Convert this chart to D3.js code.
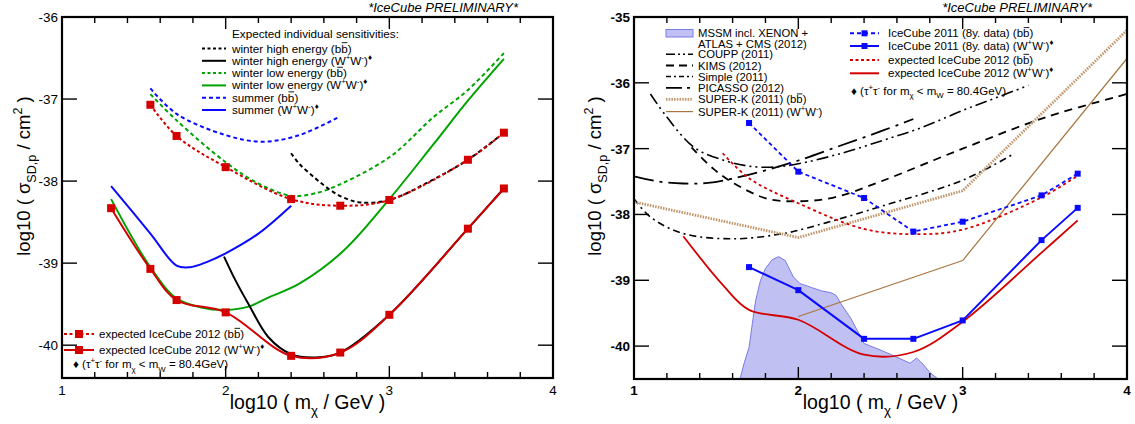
<!DOCTYPE html>
<html><head><meta charset="utf-8">
<script src="https://cdn.jsdelivr.net/npm/d3@7"></script>
<style>
body{margin:0;background:#fff}
svg{display:block}
text{font-family:"Liberation Sans",Arial,Helvetica,sans-serif;fill:#000}
</style>
</head><body>
<svg id="c" width="1135" height="424"></svg>
<script>
// ---------------- DATA ----------------
const xTickLabels = ["1","2","3","4"];
const yTicksLeft = [-36,-37,-38,-39,-40];
const yTicksRight = [-35,-36,-37,-38,-39,-40];

// expected IceCube 2012 (W+W-)  (mass points, log10 sigma)
const expWMass = [1.30,1.54,1.70,2.00,2.40,2.70,3.00,3.48,3.70];
const expW     = [-38.33,-39.07,-39.45,-39.60,-40.13,-40.09,-39.63,-38.58,-38.09];
// expected IceCube 2012 (bb)
const expBbMass = [1.54,1.70,2.00,2.40,2.70,3.00,3.48,3.70];
const expBb     = [-37.07,-37.45,-37.83,-38.22,-38.30,-38.23,-37.74,-37.41];

// winter high energy
const whBbMass = [2.40,2.45,2.55,2.64,2.72,2.82,3.00,3.25,3.48,3.70];
const whBb     = [-37.66,-37.79,-37.97,-38.11,-38.20,-38.26,-38.23,-38.00,-37.74,-37.41];
const whWMass  = [1.99,2.06,2.14,2.26,2.40,2.55,2.70,3.00,3.48,3.70];
const whW      = [-38.92,-39.21,-39.50,-39.90,-40.11,-40.15,-40.09,-39.63,-38.58,-38.09];
// winter low energy
const wlBbMass = [1.54,1.70,2.00,2.20,2.40,2.52,2.64,3.00,3.27,3.48,3.70];
const wlBb     = [-36.94,-37.26,-37.77,-38.03,-38.18,-38.16,-38.09,-37.71,-37.22,-36.89,-36.44];
const wlWMass  = [1.30,1.54,1.70,1.85,2.00,2.14,2.26,2.45,2.72,3.00,3.27,3.48,3.70];
const wlW      = [-38.22,-39.05,-39.43,-39.54,-39.57,-39.53,-39.42,-39.25,-38.85,-38.22,-37.55,-37.02,-36.51];
// summer
const suBbMass = [1.54,1.70,2.00,2.22,2.45,2.69];
const suBb     = [-36.87,-37.18,-37.44,-37.52,-37.44,-37.22];
const suWMass  = [1.30,1.54,1.70,1.78,1.88,2.00,2.20,2.40];
const suW      = [-38.06,-38.64,-39.03,-39.05,-38.99,-38.88,-38.64,-38.30];

// IceCube 2011 (8y. data)
const ic11Mass = [1.70,2.00,2.40,2.70,3.00,3.48,3.70];
const ic11Bb   = [-36.61,-37.35,-37.75,-38.26,-38.11,-37.71,-37.38];
const ic11W    = [-38.80,-39.15,-39.89,-39.89,-39.61,-38.39,-37.90];

// direct detection limits
const couppMass = [1.10,1.20,1.365,1.55,1.71,1.85,2.00,2.25,2.52,2.75,3.00,3.20,3.40];
const coupp     = [-36.17,-36.52,-36.98,-37.18,-37.27,-37.28,-37.23,-37.08,-36.87,-36.68,-36.42,-36.23,-36.04];
const kimsMass  = [1.35,1.48,1.61,1.81,2.00,2.22,2.50,3.00,3.51,4.00];
const kims      = [-36.98,-37.30,-37.53,-37.76,-37.80,-37.74,-37.50,-37.00,-36.52,-36.17];
const simpleMass= [1.00,1.10,1.30,1.61,1.91,2.00,2.22,2.50,3.00,3.31];
const simple    = [-37.76,-38.04,-38.29,-38.37,-38.29,-38.24,-38.09,-37.88,-37.48,-37.08];
const picassoMass=[1.00,1.15,1.30,1.45,1.61,1.80,2.00,2.25,2.52,2.70];
const picasso   = [-37.42,-37.50,-37.53,-37.52,-37.45,-37.33,-37.18,-36.96,-36.72,-36.55];
const skBbMass  = [1,2,3,4];
const skBb      = [-37.81,-38.35,-37.64,-35.20];
const skWMass   = [2,3,4];
const skW       = [-39.55,-38.70,-35.63];
// MSSM incl. XENON + ATLAS + CMS (upper edge of region)
const mssmMass = [1.645,1.669,1.70,1.72,1.74,1.77,1.80,1.84,1.88,1.92,1.97,2.01,2.08,2.14,2.20,2.23,2.26,2.32,2.40,2.51,2.60,2.68,2.72,2.76,2.80,2.85];
const mssm     = [-40.5,-40.27,-40.02,-39.66,-39.31,-39.00,-38.82,-38.69,-38.64,-38.70,-38.95,-39.05,-39.11,-39.16,-39.19,-39.23,-39.36,-39.58,-39.96,-40.07,-40.17,-40.26,-40.18,-40.28,-40.40,-40.5];

// ---------------- STYLE ----------------
const RED="#d40000", GREEN="#00a400", BLUE="#0a0aff", BROWN="#a8743f", BROWN_DOT="#c0956a";
const svg = d3.select("#c");
const zip = (xs,ys)=>xs.map((x,i)=>[x,ys[i]]);

// rich text: ^{sup} _{sub} ~{overline}
function rich(parent, str, x, y, fs, opts={}) {
  const t = parent.append("text").attr("x",x).attr("y",y).style("font-size",fs+"px");
  if (opts.anchor) t.attr("text-anchor",opts.anchor);
  if (opts.weight) t.style("font-weight",opts.weight);
  if (opts.style) t.style("font-style",opts.style);
  if (opts.transform) t.attr("transform",opts.transform);
  const re=/([\^_~])\{([^}]*)\}/g;
  let last=0, m, cur=0;
  const overs=[];
  const add=(s,kind)=>{
    if(!s) return;
    const ts=t.append("tspan").text(s);
    const target = kind==="^" ? -0.42*fs : kind==="_" ? 0.32*fs : 0;
    const dy = target-cur;
    if (Math.abs(dy)>1e-6) ts.attr("dy",dy);
    cur=target;
    if (kind==="^"||kind==="_") ts.style("font-size",(fs*0.68)+"px");
    if (kind==="~") overs.push(ts);
  };
  while((m=re.exec(str))){ add(str.slice(last,m.index),""); add(m[2],m[1]); last=re.lastIndex; }
  add(str.slice(last),"");
  overs.forEach(ts=>{
    const n=ts.node();
    const sx=n.getStartPositionOfChar(0).x, ex=n.getEndPositionOfChar(n.getNumberOfChars()-1).x;
    parent.append("line").attr("x1",sx+0.6).attr("x2",ex-0.2).attr("y1",y-0.84*fs).attr("y2",y-0.84*fs)
      .attr("stroke","#000").attr("stroke-width",0.9);
  });
  return t;
}

function panel(opt){
  const {x0,x1,y0,y1,yDom,yTicks,bold,id} = opt;
  const x = d3.scaleLinear().domain([1,4]).range([x0,x1]);
  const y = d3.scaleLinear().domain(yDom).range([y0,y1]);
  const g = svg.append("g");
  svg.append("clipPath").attr("id",id).append("rect").attr("x",x0).attr("y",y0).attr("width",x1-x0).attr("height",y1-y0);
  const plot = g.append("g").attr("clip-path",`url(#${id})`);
  const axes = g.append("g");
  axes.append("rect").attr("x",x0).attr("y",y0).attr("width",x1-x0).attr("height",y1-y0)
    .attr("fill","none").attr("stroke","#000").attr("stroke-width",2.2);
  const xt = d3.range(0,16).map(i=>1+i*0.2);
  xt.forEach(v=>{
    const major = Math.abs(v-Math.round(v))<1e-6;
    const L = major?12:6;
    axes.append("line").attr("x1",x(v)).attr("x2",x(v)).attr("y1",y1).attr("y2",y1-L).attr("stroke","#000").attr("stroke-width",1.4);
    axes.append("line").attr("x1",x(v)).attr("x2",x(v)).attr("y1",y0).attr("y2",y0+L).attr("stroke","#000").attr("stroke-width",1.4);
  });
  xTickLabels.forEach(s=>{
    axes.append("text").attr("x",x(+s)).attr("y",395).attr("text-anchor","middle")
      .style("font-size","13.5px").style("font-weight",bold?"bold":"normal").text(s);
  });
  yTicks.forEach(v=>{
    axes.append("line").attr("x1",x0).attr("x2",x0+15).attr("y1",y(v)).attr("y2",y(v)).attr("stroke","#000").attr("stroke-width",1.4);
    axes.append("line").attr("x1",x1).attr("x2",x1-15).attr("y1",y(v)).attr("y2",y(v)).attr("stroke","#000").attr("stroke-width",1.4);
    axes.append("text").attr("x",opt.yLabX).attr("y",y(v)+5).attr("text-anchor","end")
      .style("font-size","13.5px").style("font-weight",bold?"bold":"normal").text(String(v));
  });
  rich(axes,"log10 ( m_{χ} / GeV )",(x0+x1)/2,409,19.5,{anchor:"middle"});
  rich(axes,"log10 ( σ_{SD,p} / cm^{2} )",0,0,18.5,{anchor:"middle",transform:`translate(${opt.yTitleX},176) rotate(-90)`});
  axes.append("text").attr("x",x1-35).attr("y",12).attr("text-anchor","end")
    .style("font-size","13px").style("font-style","italic").text("*IceCube PRELIMINARY*");
  return {x,y,plot,g};
}

function curve(p, xs, ys, color, w, dash, straight){
  const line = d3.line().x(d=>p.x(d[0])).y(d=>p.y(d[1])).curve(straight?d3.curveLinear:d3.curveCatmullRom.alpha(0.5));
  p.plot.append("path").datum(zip(xs,ys)).attr("d",line).attr("fill","none")
    .attr("stroke",color).attr("stroke-width",w).attr("stroke-dasharray",dash||null)
    .attr("stroke-linejoin","round");
}
function squares(p, xs, ys, color, s){
  p.plot.selectAll(null).data(zip(xs,ys)).join("rect")
    .attr("x",d=>p.x(d[0])-s/2).attr("y",d=>p.y(d[1])-s/2).attr("width",s).attr("height",s).attr("fill",color);
}

// ---------------- LEFT PANEL ----------------
const L = panel({x0:62,x1:553,y0:17,y1:378,yDom:[-36,-40.4],yTicks:yTicksLeft,bold:false,id:"clipL",yLabX:58,yTitleX:30});
curve(L, wlBbMass, wlBb, GREEN, 2, "4,3");
curve(L, suBbMass, suBb, BLUE, 2, "4,3");
curve(L, whBbMass, whBb, "#000", 2, "4,3");
curve(L, expBbMass, expBb, RED, 2, "3,2.5");
curve(L, wlWMass, wlW, GREEN, 2);
curve(L, suWMass, suW, BLUE, 2);
curve(L, whWMass, whW, "#000", 2);
curve(L, expWMass, expW, RED, 2);
squares(L, expBbMass, expBb, RED, 8);
squares(L, expWMass, expW, RED, 8);

// left top legend
{
  const lg = svg.append("g");
  const fs=11.7, x0=202, x1=226, tx=232;
  lg.append("text").attr("x",tx).attr("y",38).style("font-size",fs+"px").text("Expected individual sensitivities:");
  const items=[
    ["winter high energy (b~{b})","#000","3,2.5"],
    ["winter high energy (W^{+}W^{-})^{♦}","#000",null],
    ["winter low energy (b~{b})",GREEN,"3,2.5"],
    ["winter low energy (W^{+}W^{-})^{♦}",GREEN,null],
    ["summer (b~{b})",BLUE,"4,3"],
    ["summer (W^{+}W^{-})^{♦}",BLUE,null]];
  items.forEach((it,i)=>{
    const yy=48.5+i*12.3;
    lg.append("line").attr("x1",x0).attr("x2",x1).attr("y1",yy).attr("y2",yy).attr("stroke",it[1]).attr("stroke-width",2).attr("stroke-dasharray",it[2]);
    rich(lg,it[0],tx,yy+4,fs);
  });
}
// left bottom legend
{
  const lg = svg.append("g"); const fs=11.5;
  const rows=[["expected IceCube 2012 (b~{b})","3,2.5",334],["expected IceCube 2012 (W^{+}W^{-})^{♦}",null,350]];
  rows.forEach(r=>{
    lg.append("line").attr("x1",64).attr("x2",94).attr("y1",r[2]).attr("y2",r[2]).attr("stroke",RED).attr("stroke-width",2).attr("stroke-dasharray",r[1]);
    lg.append("rect").attr("x",75).attr("y",r[2]-4).attr("width",8).attr("height",8).attr("fill",RED);
    rich(lg,r[0],99,r[2]+4,fs);
  });
  rich(lg,"♦ (τ^{+}τ^{-} for m_{χ} < m_{W} = 80.4GeV)",73,368,fs);
}

// ---------------- RIGHT PANEL ----------------
const R = panel({x0:634,x1:1127,y0:17,y1:379,yDom:[-35,-40.5],yTicks:yTicksRight,bold:true,id:"clipR",yLabX:630,yTitleX:601});
{
  const pts = zip(mssmMass,mssm);
  const area = d3.area().x(d=>R.x(d[0])).y0(R.y(-40.6)).y1(d=>R.y(d[1]));
  R.plot.append("path").datum(pts).attr("d",area).attr("fill","#c0c0f3").attr("stroke","none");
  R.plot.append("path").datum(pts).attr("d",d3.line().x(d=>R.x(d[0])).y(d=>R.y(d[1]))).attr("fill","none").attr("stroke","#7a7ae6").attr("stroke-width",1);
}
curve(R, couppMass, coupp, "#000", 1.6, "12,4,2,4,2,4");
curve(R, kimsMass, kims, "#000", 1.8, "8,6");
curve(R, simpleMass, simple, "#000", 1.6, "7,4,2,4");
curve(R, picassoMass, picasso, "#000", 1.8, "20,6,3,6");
curve(R, skBbMass, skBb, BROWN_DOT, 2.8, "1.5,1.2", true);
curve(R, skWMass, skW, BROWN, 1.2, null, true);
curve(R, expBbMass, expBb, RED, 1.8, "3,3");
curve(R, expWMass, expW, RED, 1.8);
curve(R, ic11Mass, ic11Bb, BLUE, 1.8, "4,3", true);
curve(R, ic11Mass, ic11W, BLUE, 2, null, true);
squares(R, ic11Mass, ic11Bb, BLUE, 6);
squares(R, ic11Mass, ic11W, BLUE, 6);

// right legends
{
  const lg = svg.append("g"); const fs=11.3;
  lg.append("rect").attr("x",666).attr("y",29.5).attr("width",27).attr("height",7.5).attr("fill","#c0c0f3").attr("stroke","#7a7ae6").attr("stroke-width",1);
  lg.append("text").attr("x",698).attr("y",37).style("font-size",fs+"px").text("MSSM incl. XENON +");
  lg.append("text").attr("x",698).attr("y",47.5).style("font-size",fs+"px").text("ATLAS + CMS (2012)");
  const items=[
    ["COUPP (2011)","#000",1.6,"9,3,2,3,2,3",54.3],
    ["KIMS (2012)","#000",1.8,"8,5",65.5],
    ["Simple (2011)","#000",1.6,"5,3,2,3",76.5],
    ["PICASSO (2012)","#000",1.8,"16,5,3,5",87.8],
    ["SUPER-K (2011) (b~{b})",BROWN_DOT,2.8,"1.5,1.2",99.4],
    ["SUPER-K (2011) (W^{+}W^{-})",BROWN,1.2,null,111.6]];
  items.forEach(it=>{
    lg.append("line").attr("x1",666).attr("x2",693).attr("y1",it[4]).attr("y2",it[4]).attr("stroke",it[1]).attr("stroke-width",it[2]).attr("stroke-dasharray",it[3]);
    rich(lg,it[0],698,it[4]+4,fs);
  });
  const items2=[
    ["IceCube 2011 (8y. data) (b~{b})",BLUE,"4,3",true,33.3],
    ["IceCube 2011 (8y. data) (W^{+}W^{-})^{♦}",BLUE,null,true,46],
    ["expected IceCube 2012 (b~{b})",RED,"3,2.5",false,60],
    ["expected IceCube 2012 (W^{+}W^{-})^{♦}",RED,null,false,73.3]];
  items2.forEach(it=>{
    lg.append("line").attr("x1",850).attr("x2",879).attr("y1",it[4]).attr("y2",it[4]).attr("stroke",it[1]).attr("stroke-width",2).attr("stroke-dasharray",it[2]);
    if(it[3]) lg.append("rect").attr("x",861.5).attr("y",it[4]-3).attr("width",6).attr("height",6).attr("fill",it[1]);
    rich(lg,it[0],888,it[4]+4,11.5);
  });
  rich(lg,"♦ (τ^{+}τ^{-} for m_{χ} < m_{W} = 80.4GeV)",851,94.5,11.5);
}
</script>
</body></html>
